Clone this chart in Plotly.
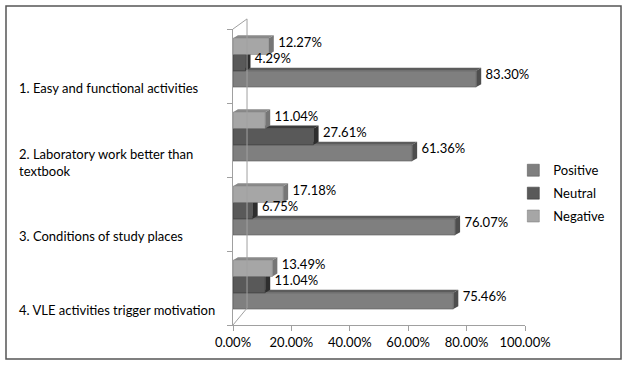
import plotly.graph_objects as go

categories = [
    "1. Easy and functional activities",
    "2. Laboratory work better than<br>textbook",
    "3. Conditions of study places",
    "4. VLE activities trigger motivation",
]
positive = [83.30, 61.36, 76.07, 75.46]
neutral = [4.29, 27.61, 6.75, 11.04]
negative = [12.27, 11.04, 17.18, 13.49]
x_ticks = [0, 20, 40, 60, 80, 100]
x_tick_labels = ["0.00%", "20.00%", "40.00%", "60.00%", "80.00%", "100.00%"]

FONT = "Lato"
n_cat = len(categories)
cat_pos = list(range(n_cat))

# style: (name, values, front, top, side, slot from top within group)
series = [
    ("Positive", positive, "#7f7f7f", "#5c5c5c", "#4e4e4e", 2),
    ("Neutral", neutral, "#595959", "#3c3c3c", "#2e2e2e", 1),
    ("Negative", negative, "#a6a6a6", "#8a8a8a", "#767676", 0),
]
n_s = len(series)
group_w = 0.66
bar_w = group_w / n_s
shift = -0.045  # 3D perspective lifts the front faces slightly
dx = 1.7    # 3D depth in x data units
dy = 0.04   # 3D depth in category units

fig = go.Figure()
for name, vals, front, top, side, slot in series:
    centers = [k + shift - group_w / 2 + bar_w * (slot + 0.5) for k in cat_pos]
    fig.add_trace(go.Bar(
        y=centers, x=vals, name=name, orientation="h", width=bar_w,
        marker=dict(color=front, line=dict(color=side, width=0.5)),
        hoverinfo="skip", legendgroup=name,
    ))
    # 3D faces (drawn below the bars)
    for c, v in zip(centers, vals):
        yt = c - bar_w / 2
        yb = c + bar_w / 2
        fig.add_shape(type="path", xref="x", yref="y", layer="below",
                      path=f"M0,{yt} L{v},{yt} L{v+dx},{yt-dy} L{dx},{yt-dy} Z",
                      fillcolor=top, line=dict(width=0))
        fig.add_shape(type="path", xref="x", yref="y", layer="below",
                      path=f"M{v},{yt} L{v+dx},{yt-dy} L{v+dx},{yb-dy} L{v},{yb} Z",
                      fillcolor=side, line=dict(width=0))
    fig.add_trace(go.Scatter(
        y=[c - dy for c in centers], x=[v + dx + 1.5 for v in vals], mode="text",
        text=[f"{v:.2f}%" for v in vals], textposition="middle right",
        textfont=dict(family=FONT, size=13, color="#000000"),
        showlegend=False, hoverinfo="skip", cliponaxis=False, legendgroup=name,
    ))

boundaries = [k - 0.5 for k in range(n_cat + 1)]

fig.update_layout(
    width=627, height=365,
    margin=dict(l=233, r=102, t=29, b=40, autoexpand=False),
    paper_bgcolor="white", plot_bgcolor="white",
    barmode="overlay",
    font=dict(family=FONT, size=13, color="#000000"),
    showlegend=True,
    legend=dict(
        traceorder="grouped", x=0.96, xanchor="left", y=0.445, yanchor="middle",
        font=dict(family=FONT, size=13), tracegroupgap=3,
        bgcolor="rgba(0,0,0,0)",
    ),
    xaxis=dict(
        range=[0, 100], tickvals=x_ticks, ticktext=x_tick_labels,
        showgrid=False, zeroline=False, showline=True, linecolor="#a0a0a0",
        ticks="outside", ticklen=5, tickcolor="#a0a0a0",
        tickfont=dict(family=FONT, size=13), fixedrange=True, automargin=False,
    ),
    yaxis=dict(
        range=[n_cat - 0.5, -0.5], tickvals=boundaries,
        showticklabels=False, showgrid=False, zeroline=False,
        showline=True, linecolor="#a0a0a0",
        ticks="outside", ticklen=5, tickcolor="#a0a0a0",
        fixedrange=True, automargin=False,
    ),
)

# category labels, left aligned
for k, label in zip(cat_pos, categories):
    fig.add_annotation(
        x=-0.74, xref="paper", xanchor="left", y=k, yref="y",
        text=label, showarrow=False, align="left", yshift=-22,
        font=dict(family=FONT, size=13, color="#000000"),
    )

# back wall lines (3D look)
fig.add_shape(type="line", xref="paper", yref="paper",
              x0=0.048, x1=0.048, y0=0.057, y1=1.034,
              line=dict(color="#a0a0a0", width=1))
fig.add_shape(type="line", xref="paper", yref="paper",
              x0=0.0, x1=0.048, y0=1.0, y1=1.034,
              line=dict(color="#a0a0a0", width=1))
fig.add_shape(type="line", xref="paper", yref="paper",
              x0=0.0, x1=0.048, y0=0.0, y1=0.057,
              line=dict(color="#a0a0a0", width=1))

# outer border
fig.add_shape(type="rect", xref="paper", yref="paper",
              x0=-0.7774, x1=1.3288, y0=-0.1149, y1=1.0777,
              line=dict(color="#555555", width=1.5), fillcolor="rgba(0,0,0,0)")

fig.write_html("out.html", config={"displayModeBar": False},
               post_script="document.body.style.margin='0px';")
